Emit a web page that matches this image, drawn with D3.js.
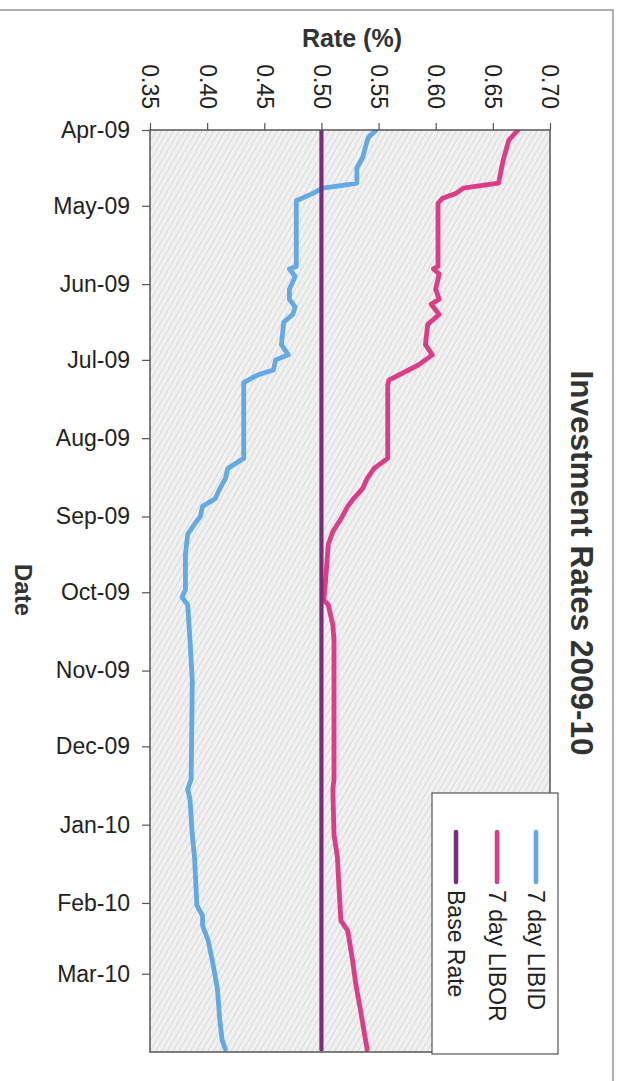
<!DOCTYPE html>
<html>
<head>
<meta charset="utf-8">
<script src="https://cdn.jsdelivr.net/npm/d3@7"></script>
<style>
  html, body { margin: 0; padding: 0; background: #ffffff; }
  svg { display: block; font-family: "Liberation Sans", Arial, sans-serif; }
</style>
</head>
<body>
<svg id="chart" width="623" height="1081"></svg>
<script>
// Rate axis ticks (%)
const rateTicks = [0.35, 0.40, 0.45, 0.50, 0.55, 0.60, 0.65, 0.70];
// Month ticks on the date axis
const monthTicks = ["2009-04-01","2009-05-01","2009-06-01","2009-07-01","2009-08-01","2009-09-01",
                    "2009-10-01","2009-11-01","2009-12-01","2010-01-01","2010-02-01","2010-03-01"];

// 7 day LIBID
const libidDates = ["2009-04-01","2009-04-04","2009-04-07","2009-04-12","2009-04-16","2009-04-22","2009-04-23",
  "2009-04-24","2009-04-26","2009-04-29","2009-05-25","2009-05-26","2009-05-29","2009-06-03","2009-06-07",
  "2009-06-10","2009-06-13","2009-06-16","2009-06-25","2009-06-29","2009-07-01","2009-07-05","2009-07-07",
  "2009-07-10","2009-08-09","2009-08-13","2009-08-17","2009-08-21","2009-08-25","2009-08-28","2009-09-01",
  "2009-09-04","2009-09-08","2009-09-16","2009-09-30","2009-10-03","2009-10-06","2009-10-20","2009-11-05",
  "2009-12-14","2009-12-18","2009-12-22","2010-01-05","2010-01-14","2010-02-02","2010-02-06","2010-02-10",
  "2010-02-16","2010-02-25","2010-03-07","2010-03-19","2010-03-27","2010-03-31"];
const libidValues = [0.548,0.541,0.539,0.536,0.531,0.531,0.517,
  0.501,0.493,0.478,0.478,0.472,0.477,0.472,0.472,
  0.477,0.475,0.467,0.465,0.471,0.460,0.458,0.444,
  0.432,0.432,0.418,0.416,0.411,0.407,0.396,0.394,
  0.389,0.383,0.381,0.381,0.378,0.383,0.385,0.387,
  0.386,0.383,0.385,0.387,0.389,0.391,0.396,0.396,
  0.401,0.405,0.409,0.411,0.413,0.416];

// 7 day LIBOR
const liborDates = ["2009-04-01","2009-04-05","2009-04-13","2009-04-22","2009-04-24","2009-04-26","2009-04-28",
  "2009-04-30","2009-05-25","2009-05-26","2009-05-28","2009-06-03","2009-06-07","2009-06-09","2009-06-13",
  "2009-06-17","2009-06-25","2009-06-29","2009-07-03","2009-07-06","2009-07-09","2009-07-11","2009-08-09",
  "2009-08-13","2009-08-17","2009-08-21","2009-08-25","2009-08-28","2009-09-02","2009-09-07","2009-09-12",
  "2009-09-18","2009-09-30","2009-10-04","2009-10-06","2009-10-14","2009-10-20","2009-12-14","2009-12-18",
  "2010-01-05","2010-01-14","2010-01-23","2010-02-08","2010-02-12","2010-02-23","2010-03-05","2010-03-15",
  "2010-03-23","2010-03-31"];
const liborValues = [0.672,0.664,0.659,0.655,0.624,0.618,0.606,
  0.602,0.602,0.598,0.603,0.600,0.603,0.596,0.603,
  0.593,0.591,0.597,0.585,0.572,0.559,0.558,0.558,
  0.546,0.540,0.536,0.528,0.523,0.517,0.510,0.506,
  0.505,0.503,0.502,0.506,0.510,0.511,0.511,0.510,
  0.511,0.514,0.515,0.517,0.523,0.527,0.530,0.534,
  0.537,0.540];

// Bank of England base rate
const baseDates = ["2009-04-01","2010-03-31"];
const baseValues = [0.50, 0.50];

const parse = d3.timeParse("%Y-%m-%d");
const zip = (ds, vs) => ds.map((d, i) => ({ date: parse(d), value: vs[i] }));

const series = [
  { name: "7 day LIBID", color: "#62a9e6", width: 4.8, data: zip(libidDates, libidValues) },
  { name: "7 day LIBOR", color: "#dd3d86", width: 4.8, data: zip(liborDates, liborValues) },
  { name: "Base Rate",   color: "#7c2b7d", width: 4.2, data: zip(baseDates, baseValues) }
];

const svg = d3.select("#chart");
const plot = { left: 150, right: 550, top: 130, bottom: 1052 };

// Rate runs left-to-right across the top, dates run top-to-bottom
const x = d3.scaleLinear().domain([0.35, 0.70]).range([plot.left, plot.right]);
const y = d3.scaleTime().domain([parse("2009-04-01"), parse("2010-04-01")]).range([plot.top, plot.bottom]);

// Outer chart frame
svg.append("rect")
  .attr("x", -5).attr("y", 10).attr("width", 618).attr("height", 1100)
  .attr("fill", "none").attr("stroke", "#7a7a7a").attr("stroke-width", 1.2);

// Hatched grey plot background
const defs = svg.append("defs");
const pat = defs.append("pattern")
  .attr("id", "hatch").attr("patternUnits", "userSpaceOnUse")
  .attr("width", 5).attr("height", 5).attr("patternTransform", "rotate(30)");
pat.append("rect").attr("width", 5).attr("height", 5).attr("fill", "#f1f1f1");
pat.append("line").attr("x1", 0.5).attr("y1", 0).attr("x2", 0.5).attr("y2", 5)
  .attr("stroke", "#cdcdcd").attr("stroke-width", 0.7);

defs.append("clipPath").attr("id", "clip")
  .append("rect").attr("x", plot.left).attr("y", plot.top)
  .attr("width", plot.right - plot.left).attr("height", plot.bottom - plot.top);

svg.append("rect")
  .attr("x", plot.left).attr("y", plot.top)
  .attr("width", plot.right - plot.left).attr("height", plot.bottom - plot.top)
  .attr("fill", "url(#hatch)");

// Rate axis (top)
const xAxis = svg.append("g")
  .attr("transform", `translate(0,${plot.top})`)
  .call(d3.axisTop(x).tickValues(rateTicks).tickFormat(d3.format(".2f")).tickSize(7).tickSizeOuter(0));
xAxis.select(".domain").remove();
xAxis.selectAll("line").attr("stroke", "#555").attr("stroke-width", 1.2);
xAxis.selectAll("text")
  .attr("transform", "rotate(90)")
  .attr("x", -21).attr("y", 0).attr("dy", "0.35em")
  .attr("text-anchor", "end")
  .attr("font-size", 23).attr("fill", "#222");

// Date axis (left)
const yAxis = svg.append("g")
  .attr("transform", `translate(${plot.left},0)`)
  .call(d3.axisLeft(y).tickValues(monthTicks.map(parse)).tickFormat(d3.timeFormat("%b-%y"))
    .tickSize(8).tickPadding(12).tickSizeOuter(0));
yAxis.select(".domain").remove();
yAxis.selectAll("line").attr("stroke", "#555").attr("stroke-width", 1.2);
yAxis.selectAll("text").attr("font-size", 23).attr("fill", "#222");

// Series lines
const line = d3.line().x(d => x(d.value)).y(d => y(d.date));
const lines = svg.append("g").attr("clip-path", "url(#clip)");
series.forEach(s => {
  lines.append("path")
    .datum(s.data)
    .attr("d", line)
    .attr("fill", "none")
    .attr("stroke", s.color)
    .attr("stroke-width", s.width)
    .attr("stroke-linejoin", "round")
    .attr("stroke-linecap", "round");
});

// Plot border
svg.append("rect")
  .attr("x", plot.left).attr("y", plot.top)
  .attr("width", plot.right - plot.left).attr("height", plot.bottom - plot.top)
  .attr("fill", "none").attr("stroke", "#555").attr("stroke-width", 1.5);

// Axis titles
svg.append("text")
  .attr("x", 352).attr("y", 47)
  .attr("text-anchor", "middle")
  .attr("font-size", 25).attr("font-weight", "bold").attr("fill", "#333")
  .text("Rate (%)");

svg.append("text")
  .attr("transform", "translate(23,590) rotate(90)")
  .attr("text-anchor", "middle").attr("dy", "0.35em")
  .attr("font-size", 24).attr("font-weight", "bold").attr("fill", "#333")
  .text("Date");

// Chart title
svg.append("text")
  .attr("transform", "translate(582,563) rotate(90)")
  .attr("text-anchor", "middle").attr("dy", "0.35em")
  .attr("font-size", 31.5).attr("font-weight", "bold").attr("fill", "#333")
  .text("Investment Rates 2009-10");

// Legend
const legend = svg.append("g");
legend.append("rect")
  .attr("x", 432).attr("y", 793).attr("width", 126).attr("height", 261)
  .attr("fill", "#ffffff").attr("stroke", "#555").attr("stroke-width", 1.2);
const legendX = [536, 497, 456];
series.forEach((s, i) => {
  legend.append("line")
    .attr("x1", legendX[i]).attr("x2", legendX[i])
    .attr("y1", 832).attr("y2", 882)
    .attr("stroke", s.color).attr("stroke-width", 4.5).attr("stroke-linecap", "round");
  legend.append("text")
    .attr("transform", `translate(${legendX[i]},890) rotate(90)`)
    .attr("dy", "0.35em")
    .attr("font-size", 23).attr("fill", "#222")
    .text(s.name);
});
</script>
</body>
</html>
